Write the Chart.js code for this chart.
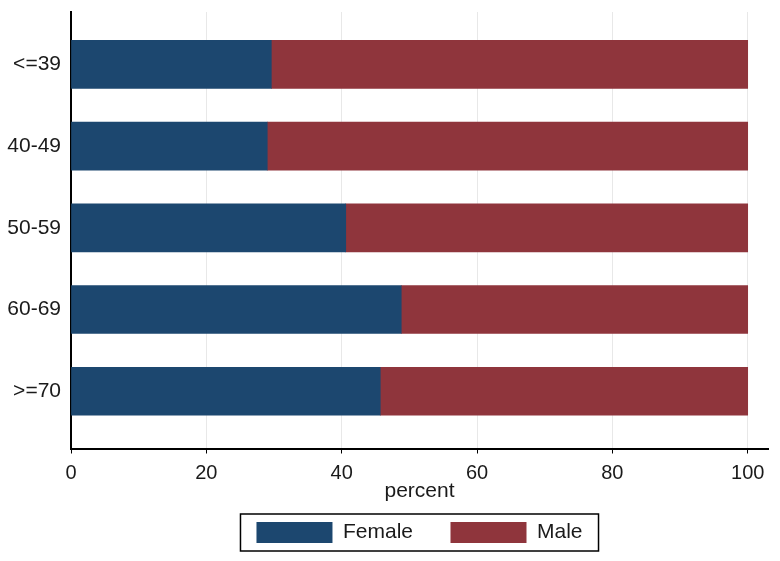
<!DOCTYPE html>
<html>
<head>
<meta charset="utf-8">
<script src="https://cdn.jsdelivr.net/npm/chart.js@4.4.1/dist/chart.umd.min.js"></script>
<style>
  html, body { margin: 0; padding: 0; background: #fff; }
  #wrap { width: 780px; height: 561px; }
</style>
</head>
<body>
<div id="wrap"><canvas id="barChart" width="780" height="561"></canvas></div>
<script>
// age groups, top to bottom
const ageGroups = ['<=39', '40-49', '50-59', '60-69', '>=70'];
// percent female / male in each group
const femalePct = [29.6, 29.0, 40.6, 48.8, 45.7];
const malePct = [70.4, 71.0, 59.4, 51.2, 54.3];
const xTicks = [0, 20, 40, 60, 80, 100];

Chart.defaults.font.family = '"Liberation Sans", Arial, sans-serif';
Chart.defaults.font.size = 21;
Chart.defaults.color = '#1a1a1a';

// box round the legend, like stata does
const legendFrame = {
  id: 'legendFrame',
  afterDraw(chart) {
    const lg = chart.legend;
    if (!lg || !lg.legendHitBoxes.length) return;
    const first = lg.legendHitBoxes[0];
    const last = lg.legendHitBoxes[lg.legendHitBoxes.length - 1];
    const x0 = first.left - 16;
    const x1 = last.left + last.width + 16;
    const ctx = chart.ctx;
    ctx.save();
    ctx.strokeStyle = '#000';
    ctx.lineWidth = 1.5;
    ctx.strokeRect(x0, first.top - 8, x1 - x0, first.height + 16);
    ctx.restore();
  }
};

const ctx = document.getElementById('barChart').getContext('2d');
const barChart = new Chart(ctx, {
  type: 'bar',
  data: {
    datasets: [
      {
        label: 'Female',
        data: femalePct.map((v, i) => ({ x: v, y: i })),
        backgroundColor: '#1c476f',
        borderWidth: 0,
        barThickness: 48
      },
      {
        label: 'Male',
        data: malePct.map((v, i) => ({ x: v, y: i })),
        backgroundColor: '#8f353c',
        borderWidth: 0,
        barThickness: 48
      }
    ]
  },
  plugins: [legendFrame],
  options: {
    indexAxis: 'y',
    responsive: false,
    animation: false,
    layout: { padding: { top: 12, right: 12, left: 0, bottom: 8 } },
    plugins: {
      tooltip: { enabled: false },
      legend: {
        position: 'bottom',
        fullSize: false, // centre it under the plot, not the canvas
        labels: {
          boxWidth: 76,
          boxHeight: 21,
          padding: 37.5,
          color: '#1a1a1a',
          font: { size: 21 }
        }
      }
    },
    scales: {
      x: {
        type: 'linear',
        stacked: true,
        min: 0,
        max: 103,
        afterBuildTicks: function (scale) {
          scale.ticks = xTicks.map(v => ({ value: v }));
        },
        afterFit: function (scale) {
          scale.height = 36;
        },
        ticks: { padding: 8, maxRotation: 0, font: { size: 20 } },
        grid: {
          color: '#e8e8e8',
          tickColor: '#000',
          tickLength: 5,
          lineWidth: 1
        },
        border: { color: '#000', width: 2 },
        title: {
          display: true,
          text: 'percent',
          font: { size: 21 },
          padding: { top: 0, bottom: -19 }
        }
      },
      y: {
        type: 'linear',
        stacked: true,
        reverse: true,
        offset: false,
        min: -0.64,
        max: 4.7,
        afterBuildTicks: function (scale) {
          scale.ticks = ageGroups.map((l, i) => ({ value: i }));
        },
        afterFit: function (scale) {
          scale.width = 71;
          scale.paddingTop = 0;
          scale.paddingBottom = 0;
        },
        ticks: {
          padding: 10,
          font: { size: 21 },
          callback: function (value) {
            return ageGroups[value];
          }
        },
        grid: { display: false, drawTicks: false },
        border: { color: '#000', width: 2 }
      }
    }
  }
});
</script>
</body>
</html>
